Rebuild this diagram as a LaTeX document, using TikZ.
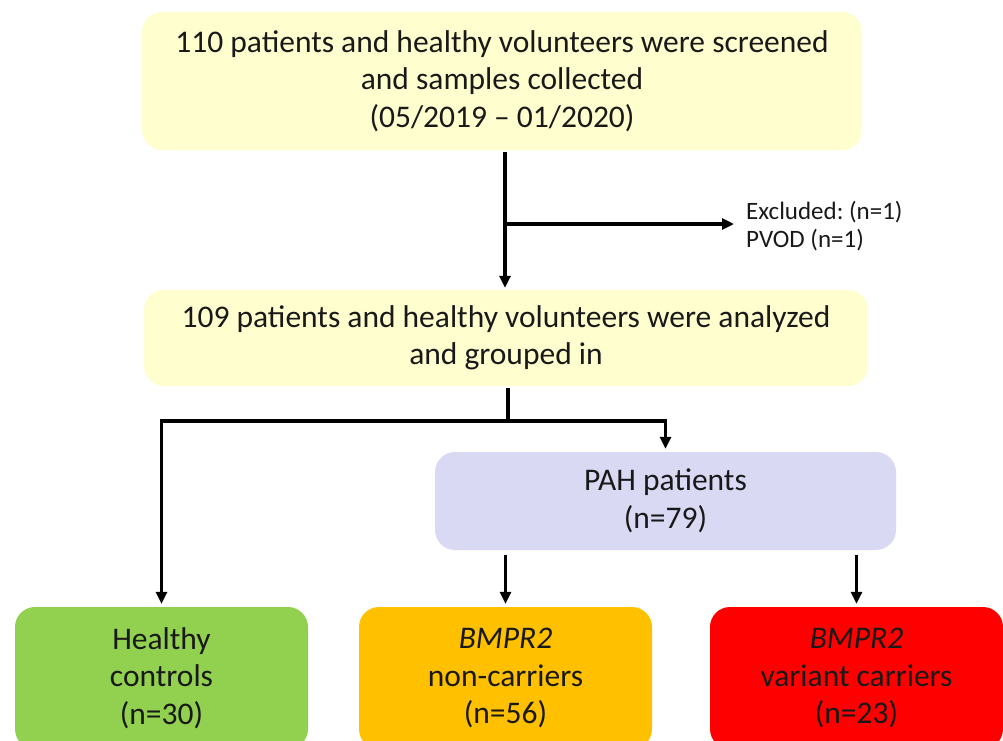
\documentclass[tikz,border=0pt]{standalone}
\usepackage{fontspec}
\setmainfont{Carlito}
\usetikzlibrary{arrows.meta}
\definecolor{paleyellow}{RGB}{255,254,206}
\definecolor{lavender}{RGB}{217,217,243}
\definecolor{ctrlgreen}{RGB}{146,208,80}
\definecolor{amber}{RGB}{255,192,0}
\definecolor{brightred}{RGB}{255,0,0}
\frenchspacing

\begin{document}
\begin{tikzpicture}[x=1pt,y=-1pt,
    box/.style={rounded corners=20pt,align=center,inner sep=0pt,text=black!90,
        font=\fontsize{31.5}{37.5}\selectfont},
    arr/.style={line width=3.2pt,-{Triangle[length=12pt,width=11pt]}},
    line/.style={line width=3.2pt}]
    \clip (0,0) rectangle (1003,740);

    % boxes
    \node[box,fill=paleyellow,minimum width=720pt,minimum height=138pt] (screen) at (502,81)
        {110 patients and healthy volunteers were screened\\and samples collected\\(05/2019 -- 01/2020)};
    \node[box,fill=paleyellow,minimum width=724pt,minimum height=96pt] (analyzed) at (506,338)
        {109 patients and healthy volunteers were analyzed\\and grouped in};
    \node[box,fill=lavender,minimum width=461pt,minimum height=98pt] (pah) at (665.5,501)
        {PAH patients\\(n=79)};
    \node[box,fill=ctrlgreen,minimum width=293pt,minimum height=142pt] (ctrl) at (161.5,678)
        {Healthy\\controls\\(n=30)};
    \node[box,fill=amber,minimum width=293pt,minimum height=142pt] (noncar) at (505.5,678)
        {\textit{BMPR2}\\non-carriers\\(n=56)};
    \node[box,fill=brightred,minimum width=293pt,minimum height=142pt] (carrier) at (856.5,678)
        {\textit{BMPR2}\\variant carriers\\(n=23)};
    \node[align=left,anchor=west,inner sep=2pt,text=black!90,font=\fontsize{25}{28}\selectfont] (excl) at (744,226)
        {Excluded: (n=1)\\PVOD (n=1)};

    % connectors
    \coordinate (split) at (505,224);
    \coordinate (fork) at (508,421);
    \draw[arr,shorten <=2pt,shorten >=2pt] (screen.south -| split) -- (analyzed.north -| split);
    \draw[arr,shorten >=10pt] (split) -- (split -| excl.west);
    \draw[line,shorten <=2pt] (analyzed.south -| fork) -- (fork);
    \draw[arr,shorten >=3pt] (fork) -| (ctrl.north);
    \draw[arr,shorten >=3pt] (fork) -| (pah.north);
    \draw[arr,shorten <=5pt,shorten >=3pt] (pah.south -| noncar.north) -- (noncar.north);
    \draw[arr,shorten <=5pt,shorten >=3pt] (pah.south -| carrier.north) -- (carrier.north);
\end{tikzpicture}
\end{document}
